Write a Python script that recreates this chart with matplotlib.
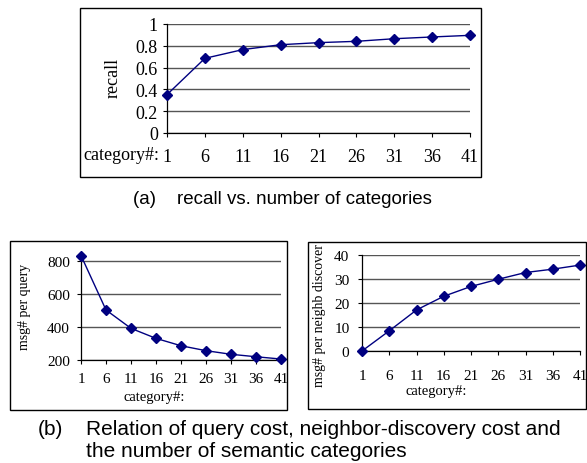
import matplotlib.pyplot as plt
from matplotlib.patches import Rectangle

categories = [1, 6, 11, 16, 21, 26, 31, 36, 41]
recall = [0.352, 0.685, 0.765, 0.81, 0.829, 0.841, 0.865, 0.881, 0.896]
query_cost = [835, 503, 391, 330, 285, 255, 233, 218, 204]
neighb_cost = [0.0, 8.4, 17.1, 22.8, 26.9, 29.9, 32.7, 34.1, 35.8]

W, H = 587, 464
SERIF = 'Liberation Serif'
SANS = 'Liberation Sans'
NAVY = '#000080'
GRID = '#555555'


def fr(x0, y0, x1, y1):
    # pixel box (top-left origin) -> figure fraction [l, b, w, h]
    return [x0 / W, 1 - y1 / H, (x1 - x0) / W, (y1 - y0) / H]


def frame(fig, x0, y0, x1, y1):
    l, b, w, h = fr(x0, y0, x1, y1)
    fig.patches.append(Rectangle((l, b), w, h, transform=fig.transFigure,
                                 fill=False, edgecolor='black', lw=1.0))


def style(ax, vals, ylim, yticks, fs):
    ax.plot(categories, vals, color=NAVY, lw=1.0, marker='D', ms=5.5,
            mfc=NAVY, mec=NAVY, clip_on=False, zorder=5)
    ax.set_xlim(1, 41)
    ax.set_ylim(*ylim)
    ax.set_xticks(categories)
    ax.set_yticks(yticks)
    for s in ['top', 'right']:
        ax.spines[s].set_visible(False)
    for s in ['left', 'bottom']:
        ax.spines[s].set_linewidth(0.9)
    ax.yaxis.grid(True, color=GRID, lw=1.0)
    ax.set_axisbelow(True)
    ax.tick_params(direction='out', length=3, width=0.8, labelsize=fs)
    for lab in ax.get_xticklabels() + ax.get_yticklabels():
        lab.set_fontfamily(SERIF)


fig = plt.figure(figsize=(W / 100, H / 100), dpi=100)

# (a) recall
frame(fig, 80, 9, 481, 178)
ax1 = fig.add_axes(fr(167, 25, 470, 134))
style(ax1, recall, (0, 1), [0, 0.2, 0.4, 0.6, 0.8, 1], 13)
ax1.set_yticklabels(['0', '0.2', '0.4', '0.6', '0.8', '1'])
ax1.tick_params(axis='x', pad=8)
ax1.set_ylabel('recall', fontfamily=SERIF, fontsize=13, va='center')
ax1.yaxis.set_label_coords(-0.178, 0.514)
fig.text(121 / W, 1 - 155 / H, 'category#:', fontfamily=SERIF, fontsize=13,
         ha='center', va='center')
fig.text(282 / W, 1 - 200 / H, '(a)    recall vs. number of categories',
         fontfamily=SANS, fontsize=13.5, ha='center', va='center')

# (b) query cost
frame(fig, 10, 242, 287, 411)
ax2 = fig.add_axes(fr(81, 255.7, 281, 360.7))
style(ax2, query_cost, (200, 840), [200, 400, 600, 800], 11)
ax2.tick_params(axis='x', pad=6)
ax2.tick_params(axis='y', pad=5)
ax2.set_ylabel('msg# per query', fontfamily=SERIF, fontsize=10, va='center')
ax2.yaxis.set_label_coords(-0.28, 0.511)
fig.text(154 / W, 1 - 397 / H, 'category#:', fontfamily=SERIF, fontsize=10.5,
         ha='center', va='center')

# (b) neighbour discovery cost
frame(fig, 308, 243, 586, 410)
ax3 = fig.add_axes(fr(362, 256, 580, 352))
style(ax3, neighb_cost, (0, 40), [0, 10, 20, 30, 40], 11)
ax3.tick_params(axis='x', pad=10)
ax3.tick_params(axis='y', pad=6)
ax3.set_ylabel('msg# per neighb discover', fontfamily=SERIF, fontsize=10,
               va='center')
ax3.yaxis.set_label_coords(-0.193, 0.375)
fig.text(436 / W, 1 - 392 / H, 'category#:', fontfamily=SERIF, fontsize=10.5,
         ha='center', va='center')

fig.text(38 / W, 1 - 430 / H, '(b)', fontfamily=SANS, fontsize=15,
         ha='left', va='center')
fig.text(86 / W, 1 - 430 / H,
         'Relation of query cost, neighbor-discovery cost and',
         fontfamily=SANS, fontsize=15, ha='left', va='center')
fig.text(86 / W, 1 - 452 / H, 'the number of semantic categories',
         fontfamily=SANS, fontsize=15, ha='left', va='center')

fig.savefig('out.png', dpi=100)
